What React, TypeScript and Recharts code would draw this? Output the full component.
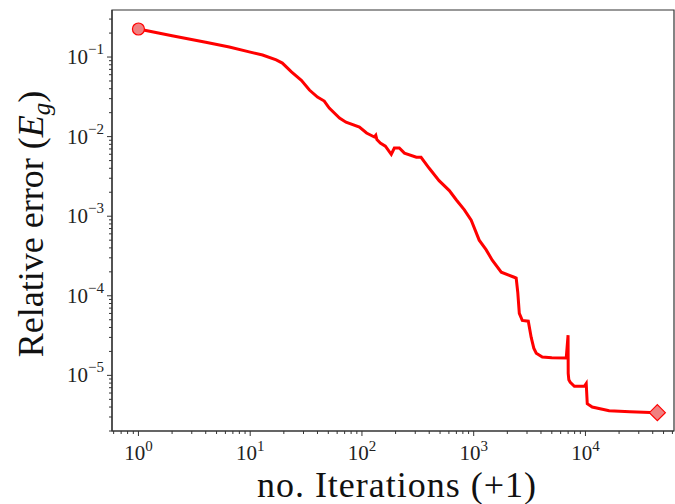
import React from 'react';
import { LineChart, Line, XAxis, YAxis, ReferenceArea } from 'recharts';

// iterations (+1) and relative error E_g
const iterations = [
  1, 2, 4, 6.5, 9.8, 12.9, 17.1, 19.4, 23.4, 28.7, 33.9, 40, 46, 51, 63, 72, 95, 110, 129,
  133, 136, 146, 162, 183, 195, 216, 240, 307, 338, 400, 490, 605, 700, 825, 950, 1120, 1290,
  1466, 1765, 2306, 2400, 2480, 2560, 2720, 3080, 3270, 3450, 3630, 4110, 5000, 6730, 6990,
  7010, 7100, 7310, 7960, 9770, 10160, 10380, 11500, 16300, 25000, 44000,
];
const relError = [
  0.225, 0.185, 0.153, 0.134, 0.116, 0.106, 0.092, 0.084, 0.065, 0.051, 0.0385, 0.0314,
  0.028, 0.0228, 0.0171, 0.0152, 0.0132, 0.0111, 0.0099, 0.0104, 0.0092, 0.0083, 0.0076,
  0.006, 0.0072, 0.0072, 0.0062, 0.0055, 0.0055, 0.004, 0.0028, 0.0021, 0.0016, 0.0012,
  0.00089, 0.0005, 0.00038, 0.00028, 0.000198, 0.000171, 0.000167, 0.00011, 0.00006,
  0.000049, 0.000048, 0.00003, 0.000022, 0.000019, 0.000017, 0.0000167, 0.0000165,
  0.000032, 0.0000106, 0.0000088, 0.0000082, 0.0000073, 0.0000073, 0.0000079, 0.0000044,
  0.000004, 0.0000036, 0.0000035, 0.0000034,
];

const xMajor = [1, 10, 100, 1000, 10000];
const xMajorExp = ['0', '1', '2', '3', '4'];
const yMajor = [1e-5, 1e-4, 1e-3, 1e-2, 1e-1];
const yMajorExp = ['−5', '−4', '−3', '−2', '−1'];

const xDomain = [0.58, 62000];
const yDomain = [2.0e-6, 0.39];

const minors = (lo: number, hi: number) => {
  const out: number[] = [];
  for (let d = Math.floor(Math.log10(lo)); d <= Math.ceil(Math.log10(hi)); d++) {
    for (let m = 1; m < 10; m++) {
      const v = m * Math.pow(10, d);
      if (v >= lo && v <= hi) out.push(v);
    }
  }
  return out;
};

const xTicks = minors(xDomain[0], xDomain[1]);
const yTicks = minors(yDomain[0], yDomain[1]);

const data = iterations.map((it, i) => ({ it, err: relError[i] }));

const FONT = '"Liberation Serif", "DejaVu Serif", serif';
const AXIS = '#333';

function XTick({ x, y, payload }: any) {
  const idx = xMajor.findIndex((v) => Math.abs(v - payload.value) < 1e-9);
  const major = idx >= 0;
  return (
    <g>
      <line x1={x} x2={x} y1={y} y2={y + (major ? 5 : 3)} stroke={AXIS} strokeWidth={1} />
      {major && (
        <text x={x} y={y + 29} textAnchor="middle" fontFamily={FONT} fill="#222">
          <tspan fontSize={21}>10</tspan>
          <tspan fontSize={15} dy={-9}>{xMajorExp[idx]}</tspan>
        </text>
      )}
    </g>
  );
}

function YTick({ x, y, payload }: any) {
  const idx = yMajor.findIndex((v) => Math.abs(v / payload.value - 1) < 1e-6);
  const major = idx >= 0;
  return (
    <g>
      <line x1={x} x2={x - (major ? 5 : 3)} y1={y} y2={y} stroke={AXIS} strokeWidth={1} />
      {major && (
        <text x={x - 8} y={y + 7} textAnchor="end" fontFamily={FONT} fill="#222">
          <tspan fontSize={21}>10</tspan>
          <tspan fontSize={15} dy={-10}>{yMajorExp[idx]}</tspan>
        </text>
      )}
    </g>
  );
}

const xLabel = () => (
  <text x={397} y={497} textAnchor="middle" fontFamily={FONT} fontSize={36} letterSpacing={1} fill="#111">
    no. Iterations (+1)
  </text>
);

const yLabel = () => (
  <text
    x={43}
    y={224}
    transform="rotate(-90 43 224)"
    textAnchor="middle"
    fontFamily={FONT}
    fontSize={36}
    fill="#111"
  >
    Relative error (<tspan fontStyle="italic">E</tspan>
    <tspan fontStyle="italic" fontSize={25} dy={7}>g</tspan>
    <tspan dy={-7}>)</tspan>
  </text>
);

const endDot = (props: any) => {
  const { cx, cy, index } = props;
  if (index === 0) {
    return <circle key="first" cx={cx} cy={cy} r={6} fill="#f08080" stroke="#ff0000" strokeWidth={1.2} />;
  }
  if (index === data.length - 1) {
    const s = 8;
    return (
      <path
        key="last"
        d={`M${cx},${cy - s} L${cx + s},${cy} L${cx},${cy + s} L${cx - s},${cy} Z`}
        fill="#f08080"
        stroke="#ff0000"
        strokeWidth={1.2}
      />
    );
  }
  return <g key={`d${index}`} />;
};

export default function App() {
  return (
    <div style={{ position: 'absolute', left: 0, top: 0 }}>
      <LineChart width={675} height={504} data={data} margin={{ top: 10, right: 1, bottom: 0, left: 0 }}>
        <XAxis
          dataKey="it"
          type="number"
          scale="log"
          domain={xDomain}
          allowDataOverflow
          ticks={xTicks}
          interval={0}
          tick={<XTick />}
          tickLine={false}
          tickSize={0}
          tickMargin={0}
          height={73}
          axisLine={{ stroke: AXIS, strokeWidth: 1.2 }}
          label={xLabel}
        />
        <YAxis
          type="number"
          scale="log"
          domain={yDomain}
          allowDataOverflow
          ticks={yTicks}
          interval={0}
          tick={<YTick />}
          tickLine={false}
          tickSize={0}
          tickMargin={0}
          width={112}
          axisLine={{ stroke: AXIS, strokeWidth: 1.2 }}
          label={yLabel}
        />
        <ReferenceArea
          x1={xDomain[0]}
          x2={xDomain[1]}
          y1={yDomain[0]}
          y2={yDomain[1]}
          fill="none"
          stroke={AXIS}
          strokeWidth={1.2}
          ifOverflow="extendDomain"
        />
        <Line
          dataKey="err"
          type="linear"
          stroke="#ff0000"
          strokeWidth={3}
          dot={endDot}
          activeDot={false}
          isAnimationActive={false}
        />
      </LineChart>
    </div>
  );
}
